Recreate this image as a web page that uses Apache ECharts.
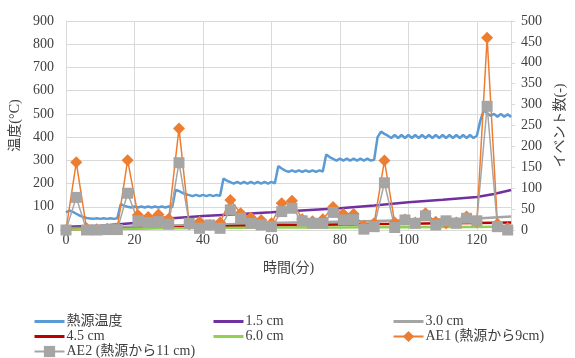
<!DOCTYPE html>
<html>
<head>
<meta charset="utf-8">
<script src="https://cdn.jsdelivr.net/npm/echarts@6/dist/echarts.min.js"></script>
<style>
  html, body { margin: 0; padding: 0; background: #ffffff; }
  #chart { width: 575px; height: 358px; }
</style>
</head>
<body>
<div id="chart"></div>
<script>
// Heat source temperature, sampled once a minute (t = 0 … 130 min)
const HEAT_STEP_MIN = 1;
const heatSource = [
  76, 84, 78, 70, 62, 56, 52, 50,
  48, 51, 48, 51, 48, 51, 48, 51,
  112, 104,
  100, 97, 101, 97, 101, 97, 101, 97, 101, 97, 101, 97, 101, 98,
  172, 168, 160, 154,
  150, 146, 151, 146, 151, 146, 151, 146, 151, 147,
  222, 212,
  206, 200, 207, 200, 207, 200, 207, 200, 207, 200, 207, 200, 207, 201,
  275, 265, 256,
  250, 257, 250, 257, 250, 257, 250, 257, 250, 257, 252,
  325, 314, 306,
  299, 307, 299, 307, 299, 307, 299, 307, 299, 307, 299, 302,
  400, 424, 414,
  406, 396, 409, 396, 409, 396, 409, 396, 409, 396, 409, 396, 409, 396,
  409, 396, 409, 396, 409, 396, 409, 396, 409, 396, 409, 396, 406,
  470, 516, 503, 492, 500, 488, 500, 488, 498, 487
];

// Thermocouple readings at distances from the heat source
const probeTimes = [0, 10, 20, 30, 40, 50, 60, 70, 80, 90, 100, 110, 120, 125, 130];
const depth15 = [14, 18, 30, 50, 60, 68, 76, 85, 94, 106, 120, 130, 142, 155, 172];
const depth30 = [8, 11, 15, 19, 22, 26, 30, 33, 36, 39, 42, 46, 50, 54, 58];
const depth45 = [3, 5, 8, 11, 14, 17, 20, 22, 24, 26, 27, 29, 30, 31, 32];
const depth60 = [2, 4, 6, 8, 9, 10, 11, 11, 11, 12, 12, 13, 13, 14, 14];

// Acoustic emission event counts, every 3 minutes (t = 0 … 129 min)
const AE_STEP_MIN = 3;
const ae1 = [
  0, 162, 4, 2, 3, 5,
  167, 36, 31, 37, 27,
  243, 14, 20, 12, 18,
  72, 40, 30, 24, 16,
  64, 70, 26, 21, 26,
  55, 38, 38, 10, 16,
  166, 18, 25, 18, 40,
  20, 16, 18, 32, 20,
  460, 15, 5
];
const ae2 = [
  0, 78, 0, 0, 1, 1,
  88, 22, 18, 20, 14,
  161, 16, 4, 12, 4,
  48, 28, 16, 12, 8,
  44, 52, 22, 16, 16,
  42, 24, 25, 2, 8,
  113, 6, 24, 16, 34,
  12, 22, 16, 28, 22,
  296, 8, 0
];

// Axis ranges
const timeMax = 130, timeStep = 20;
const tempMax = 900, tempStep = 100;
const countMax = 500, countStep = 50;

const seriesNames = ['熱源温度', '1.5 cm', '3.0 cm', '4.5 cm', '6.0 cm', 'AE1 (熱源から9cm)', 'AE2 (熱源から11 cm)'];

const FONT = "'Liberation Serif', 'Noto Sans CJK JP', serif";
const TEXT = '#404040';
const GRID = '#D9D9D9';

const pairs = (times, values) => times.map((t, i) => [t, values[i]]);
const stepped = (values, step) => values.map((v, i) => [i * step, v]);

const tempLine = (name, color, data) => ({
  name, type: 'line', yAxisIndex: 0, data,
  symbol: 'none', lineStyle: { color, width: 2.5 }, itemStyle: { color },
  animation: false
});

// Legend entries: plain lines hide the marker, AE entries keep it
const plainEntry = name => ({ name, itemStyle: { opacity: 0 }, lineStyle: { width: 3 } });
const legendBlock = (left, entries) => ({
  data: entries, orient: 'vertical', left, top: 314, height: 60, padding: 0,
  itemGap: 0, itemWidth: 30, itemHeight: 14,
  textStyle: { fontFamily: FONT, fontSize: 14, lineHeight: 15, color: TEXT, padding: [0, 0, 0, -3] }
});

const chart = echarts.init(document.getElementById('chart'), null, { renderer: 'canvas' });
chart.setOption({
  backgroundColor: '#ffffff',
  textStyle: { fontFamily: FONT, color: TEXT },
  grid: { left: 66, right: 53, top: 21, bottom: 128, containLabel: false },
  xAxis: {
    type: 'value', min: 0, max: timeMax, interval: timeStep,
    name: '時間(分)', nameLocation: 'middle', nameGap: 31,
    nameTextStyle: { fontFamily: FONT, fontSize: 14, color: TEXT },
    axisLine: { show: true, lineStyle: { color: GRID, width: 1 } },
    axisTick: { show: false },
    axisLabel: { fontFamily: FONT, fontSize: 14, color: TEXT, margin: 3, showMaxLabel: false },
    splitLine: { show: true, lineStyle: { color: GRID, width: 1 } }
  },
  yAxis: [
    {
      type: 'value', min: 0, max: tempMax, interval: tempStep, position: 'left',
      name: '温度(°C)', nameLocation: 'middle', nameGap: 40,
      nameTextStyle: { fontFamily: FONT, fontSize: 14, color: TEXT },
      axisLine: { show: true, lineStyle: { color: GRID } },
      axisTick: { show: false },
      axisLabel: { fontFamily: FONT, fontSize: 14, color: TEXT, margin: 12 },
      splitLine: { show: true, lineStyle: { color: GRID, width: 1 } }
    },
    {
      type: 'value', min: 0, max: countMax, interval: countStep, position: 'right',
      name: 'イベント数(-)', nameLocation: 'middle', nameGap: 40,
      nameTextStyle: { fontFamily: FONT, fontSize: 14, color: TEXT },
      axisLine: { show: true, lineStyle: { color: GRID } },
      axisTick: { show: true, length: 4, lineStyle: { color: GRID } },
      axisLabel: { fontFamily: FONT, fontSize: 14, color: TEXT, margin: 10 },
      splitLine: { show: false }
    }
  ],
  legend: [
    legendBlock(33, [plainEntry(seriesNames[0]), plainEntry(seriesNames[3]), { name: seriesNames[6] }]),
    legendBlock(212, [plainEntry(seriesNames[1]), plainEntry(seriesNames[4])]),
    legendBlock(392, [plainEntry(seriesNames[2]), { name: seriesNames[5] }])
  ],
  series: [
    tempLine(seriesNames[0], '#5B9BD5', stepped(heatSource, HEAT_STEP_MIN)),
    tempLine(seriesNames[1], '#7030A0', pairs(probeTimes, depth15)),
    tempLine(seriesNames[2], '#A5A5A5', pairs(probeTimes, depth30)),
    tempLine(seriesNames[3], '#C00000', pairs(probeTimes, depth45)),
    tempLine(seriesNames[4], '#92D050', pairs(probeTimes, depth60)),
    {
      name: seriesNames[5], type: 'line', yAxisIndex: 1,
      data: stepped(ae1, AE_STEP_MIN),
      symbol: 'diamond', symbolSize: 12, showAllSymbol: true,
      lineStyle: { color: '#ED7D31', width: 1.5 },
      itemStyle: { color: '#ED7D31' },
      animation: false
    },
    {
      name: seriesNames[6], type: 'line', yAxisIndex: 1,
      data: stepped(ae2, AE_STEP_MIN),
      symbol: 'rect', symbolSize: 11, showAllSymbol: true,
      lineStyle: { color: '#A5A5A5', width: 1.5 },
      itemStyle: { color: '#A5A5A5' },
      animation: false
    }
  ]
});
</script>
</body>
</html>
